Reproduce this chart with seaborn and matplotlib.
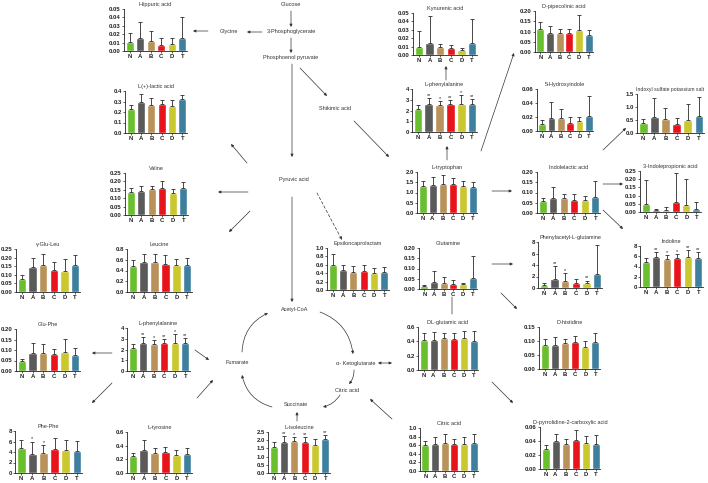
import numpy as np
import pandas as pd
import matplotlib
matplotlib.use("Agg")
import matplotlib.pyplot as plt
import seaborn as sns

sns.set_style("white")
plt.rcParams['font.family'] = ['Liberation Sans', 'DejaVu Sans']

groups = ["N", "A", "B", "C", "D", "T"]
colors = ["#6abf2e", "#5a5a5a", "#b8925a", "#e8141b", "#c9c82e", "#3f7f9e"]

# means and SD (upper error)
hippuric = [0.011, 0.015, 0.012, 0.007, 0.008, 0.016]
hippuric_sd = [0.010, 0.019, 0.012, 0.009, 0.007, 0.025]
lactic = [0.23, 0.30, 0.27, 0.275, 0.26, 0.32]
lactic_sd = [0.035, 0.07, 0.065, 0.035, 0.055, 0.04]
valine = [0.138, 0.143, 0.155, 0.160, 0.133, 0.160]
valine_sd = [0.022, 0.027, 0.020, 0.040, 0.022, 0.038]
glu_leu = [0.078, 0.143, 0.155, 0.130, 0.125, 0.158]
glu_leu_sd = [0.019, 0.057, 0.065, 0.047, 0.067, 0.057]
leucine = [0.48, 0.55, 0.56, 0.53, 0.51, 0.50]
leucine_sd = [0.12, 0.15, 0.14, 0.15, 0.10, 0.14]
glu_phe = [0.047, 0.086, 0.088, 0.079, 0.090, 0.076]
glu_phe_sd = [0.010, 0.046, 0.039, 0.025, 0.062, 0.032]
phenylalanine = [2.1, 2.6, 2.5, 2.6, 2.6, 2.6]
phenylalanine_sd = [0.4, 0.6, 0.35, 0.4, 0.8, 0.5]
phenylalanine_sig = ["", "**", "*", "**", "*", "**"]
phe_phe = [4.8, 3.7, 3.8, 4.5, 4.3, 4.1]
phe_phe_sd = [1.4, 2.3, 1.6, 2.1, 1.9, 2.0]
phe_phe_sig = ["", "*", "*", "", "", ""]
tyrosine = [0.25, 0.33, 0.30, 0.31, 0.27, 0.28]
tyrosine_sd = [0.05, 0.15, 0.06, 0.07, 0.06, 0.08]
isoleucine = [1.60, 1.90, 1.97, 1.90, 1.72, 2.05]
isoleucine_sd = [0.30, 0.35, 0.23, 0.30, 0.35, 0.25]
isoleucine_sig = ["", "**", "*", "**", "", "**"]
epsilon = [0.60, 0.47, 0.43, 0.45, 0.41, 0.43]
epsilon_sd = [0.25, 0.13, 0.13, 0.14, 0.11, 0.12]
kynurenic = [0.010, 0.014, 0.009, 0.008, 0.006, 0.014]
kynurenic_sd = [0.019, 0.033, 0.004, 0.004, 0.002, 0.029]
tryptophan = [1.33, 1.38, 1.43, 1.40, 1.33, 1.28]
tryptophan_sd = [0.22, 0.37, 0.42, 0.30, 0.25, 0.24]
glutamine = [0.013, 0.035, 0.028, 0.022, 0.022, 0.056]
glutamine_sd = [0.007, 0.055, 0.032, 0.020, 0.008, 0.107]
dl_glutamic = [0.42, 0.42, 0.45, 0.43, 0.44, 0.41]
dl_glutamic_sd = [0.10, 0.11, 0.07, 0.09, 0.11, 0.14]
citric = [0.60, 0.62, 0.66, 0.63, 0.63, 0.64]
citric_sd = [0.10, 0.17, 0.19, 0.12, 0.17, 0.21]
pipecolinic = [0.112, 0.095, 0.091, 0.093, 0.105, 0.085]
pipecolinic_sd = [0.033, 0.032, 0.022, 0.020, 0.075, 0.020]
hydroxyindole = [0.010, 0.018, 0.019, 0.012, 0.014, 0.021]
hydroxyindole_sd = [0.006, 0.024, 0.013, 0.008, 0.006, 0.029]
indoxyl = [0.37, 0.62, 0.55, 0.35, 0.51, 0.66]
indoxyl_sd = [0.17, 0.73, 0.40, 0.23, 0.59, 0.72]
indolelactic = [0.057, 0.073, 0.071, 0.063, 0.064, 0.080]
indolelactic_sd = [0.018, 0.052, 0.024, 0.032, 0.020, 0.077]
indolepropionic = [0.050, 0.010, 0.015, 0.060, 0.045, 0.020]
indolepropionic_sd = [0.145, 0.008, 0.017, 0.175, 0.158, 0.040]
phenylacetyl = [0.6, 1.6, 1.3, 0.9, 0.95, 2.5]
phenylacetyl_sd = [0.3, 2.2, 1.3, 0.7, 0.35, 4.9]
phenylacetyl_sig = ["", "**", "*", "", "**", ""]
indoline = [4.9, 5.8, 5.5, 5.7, 5.8, 5.7]
indoline_sd = [0.8, 1.1, 0.8, 0.7, 1.5, 1.2]
indoline_sig = ["", "**", "*", "*", "**", "**"]
histidine = [0.084, 0.085, 0.092, 0.097, 0.077, 0.095]
histidine_sd = [0.022, 0.028, 0.016, 0.021, 0.024, 0.032]
pyrrolidine = [0.028, 0.040, 0.036, 0.041, 0.037, 0.036]
pyrrolidine_sd = [0.006, 0.010, 0.007, 0.015, 0.010, 0.012]

W, H = 708, 483
fig = plt.figure(figsize=(W / 100, H / 100), dpi=100)

# background axes in pixel coords for the pathway nodes and arrows
bg = fig.add_axes([0, 0, 1, 1])
bg.set_xlim(0, W)
bg.set_ylim(H, 0)
bg.axis("off")

TXT = dict(fontsize=4, color="#333333", ha="center", va="center")
nodes = {
    "Glucose": (291, 5),
    "3-Phosphoglycerate": (291, 32),
    "Phosphoenol pyruvate": (291, 58),
    "Glycine": (229, 32),
    "Shikimic acid": (335, 108),
    "Pyruvic acid": (294, 179),
    "Acetyl-CoA": (295, 310),
    "Fumarate": (237, 362),
    "α- Ketoglutarate": (356, 363),
    "Citric acid": (347, 390),
    "Succinate": (296, 405),
}
for name, (x, y) in nodes.items():
    bg.text(x, y, name, **TXT)


def arrow(tail, head, style="-|>", rad=0.0, ls="-"):
    bg.annotate("", xy=head, xytext=tail,
                arrowprops=dict(arrowstyle=style, lw=0.5, color="#333333",
                                mutation_scale=4, shrinkA=0, shrinkB=0,
                                linestyle=ls,
                                connectionstyle=f"arc3,rad={rad}"))


arrow((291, 11), (291, 27))
arrow((291, 38), (291, 53))
arrow((262, 32), (247, 32))
arrow((208, 31), (193, 31))
arrow((300, 68), (327, 96))
arrow((292, 64), (292, 157))
arrow((354, 121), (389, 157))
arrow((446, 80), (446, 66))
arrow((447, 160), (447, 146))
arrow((481, 151), (514, 53))
arrow((603, 150), (626, 128))
arrow((492, 191), (512, 191))
arrow((603, 184), (623, 184))
arrow((603, 210), (623, 229))
arrow((492, 264), (513, 264))
arrow((501, 293), (517, 309))
arrow((452, 297), (452, 314), style="-")
arrow((492, 382), (513, 403))
arrow((378, 363), (392, 363), style="<|-|>")
arrow((392, 419), (370, 399))
arrow((292, 197), (292, 302))
arrow((317, 193), (342, 240), ls=(0, (4, 3)))
arrow((248, 192), (218, 192))
arrow((247, 163), (231, 144))
arrow((250, 211), (229, 232))
arrow((112, 353), (92, 353))
arrow((112, 383), (92, 403))
arrow((195, 350), (209, 360))
arrow((197, 398), (213, 380))
arrow((297, 421), (297, 412))
# TCA cycle
arrow((320, 312), (353, 354), rad=-0.3)
arrow((354, 370), (349, 384), rad=-0.2)
arrow((340, 395), (323, 407), rad=-0.2)
arrow((272, 407), (242, 375), rad=-0.3)
arrow((242, 352), (268, 313), rad=-0.3)


def panel(title, box, means, sds, ymax, step, dec, sig=None, tsize=4.0):
    x0, y0, x1, y1 = box
    ax = fig.add_axes([x0 / W, 1 - y1 / H, (x1 - x0) / W, (y1 - y0) / H])
    df = pd.DataFrame({"group": groups, "value": means})
    sns.barplot(data=df, x="group", y="value", hue="group", palette=colors,
                saturation=1, width=0.8, legend=False, ax=ax)
    ax.errorbar(np.arange(6), means, yerr=[np.zeros(6), sds], fmt="none",
                ecolor="#2a2a2a", elinewidth=0.6, capsize=1.4, capthick=0.6)
    if sig:
        for i, s in enumerate(sig):
            if s:
                ax.text(i, means[i] + sds[i], s, ha="center", va="bottom",
                        fontsize=4, color="#222222")
    ticks = np.arange(0, ymax + step / 2, step)
    ax.set_ylim(0, ymax)
    ax.set_yticks(ticks)
    ax.set_yticklabels([f"{t:.{dec}f}" for t in ticks])
    ax.set_xlim(-0.55, 5.45)
    ax.set_xlabel("")
    ax.set_ylabel("")
    ax.set_title(title, fontsize=tsize, color="#333333", pad=2.5)
    sns.despine(ax=ax)
    for sp in ["left", "bottom"]:
        ax.spines[sp].set_linewidth(0.6)
        ax.spines[sp].set_color("#222222")
    ax.tick_params(axis="both", length=1.5, width=0.5, pad=0.8,
                   labelsize=4.3, colors="#222222", left=True, bottom=True)
    for lab in ax.get_xticklabels() + ax.get_yticklabels():
        lab.set_fontweight("bold")
    return ax


panel("Hippuric acid", (124, 9, 187, 51), hippuric, hippuric_sd, 0.05, 0.01, 2)
panel("L(+)-lactic acid", (125, 91, 187, 133), lactic, lactic_sd, 0.4, 0.1, 1)
panel("Valine", (125, 173, 188, 215), valine, valine_sd, 0.25, 0.05, 2)
panel("γ-Glu-Leu", (16, 249, 80, 292), glu_leu, glu_leu_sd, 0.25, 0.05, 2)
panel("Leucine", (127, 249, 192, 292), leucine, leucine_sd, 0.8, 0.2, 1)
panel("Glu-Phe", (16, 329, 80, 371), glu_phe, glu_phe_sd, 0.20, 0.05, 2)
panel("L-phenylalanine", (127, 328, 190, 371), phenylalanine, phenylalanine_sd,
      4, 1, 0, phenylalanine_sig)
panel("Phe-Phe", (15, 431, 82, 473), phe_phe, phe_phe_sd, 8, 2, 0, phe_phe_sig)
panel("L-tyrosine", (127, 432, 192, 473), tyrosine, tyrosine_sd, 0.6, 0.2, 1)
panel("L-isoleucine", (268, 432, 330, 473), isoleucine, isoleucine_sd,
      2.5, 0.5, 1, isoleucine_sig)
panel("Epsiloncaprolactam", (327, 248, 389, 290), epsilon, epsilon_sd, 1.0, 0.2, 1)
panel("Kynurenic acid", (413, 13, 477, 55), kynurenic, kynurenic_sd, 0.05, 0.01, 2)
panel("L-phenylalanine", (412, 89, 477, 132), phenylalanine, phenylalanine_sd,
      4, 1, 0, phenylalanine_sig)
panel("L-tryptophan", (417, 172, 477, 213), tryptophan, tryptophan_sd, 2.0, 0.5, 1)
panel("Glutamine", (419, 248, 477, 289), glutamine, glutamine_sd, 0.20, 0.05, 2)
panel("DL-glutamic acid", (418, 327, 478, 370), dl_glutamic, dl_glutamic_sd, 0.6, 0.2, 1)
panel("Citric acid", (420, 428, 478, 471), citric, citric_sd, 1.0, 0.2, 1)
panel("D-pipecolinic acid", (535, 11, 593, 52), pipecolinic, pipecolinic_sd, 0.20, 0.05, 2)
panel("5-Hydroxyindole", (537, 89, 593, 131), hydroxyindole, hydroxyindole_sd,
      0.06, 0.02, 2)
panel("Indoxyl sulfate potassium salt", (637, 94, 704, 133), indoxyl, indoxyl_sd,
      1.5, 0.5, 1, tsize=3.7)
panel("Indolelactic acid", (537, 172, 600, 213), indolelactic, indolelactic_sd,
      0.20, 0.05, 2)
panel("3-Indolepropionic acid", (640, 171, 701, 212), indolepropionic,
      indolepropionic_sd, 0.25, 0.05, 2)
panel("Phenylacetyl-L-glutamine", (538, 242, 602, 288), phenylacetyl,
      phenylacetyl_sd, 8, 2, 0, phenylacetyl_sig)
panel("Indoline", (640, 246, 703, 287), indoline, indoline_sd, 8, 2, 0, indoline_sig)
panel("D-histidine", (539, 327, 600, 369), histidine, histidine_sd, 0.15, 0.05, 2)
panel("D-pyrrolidine-2-carboxylic acid", (540, 427, 600, 469), pyrrolidine,
      pyrrolidine_sd, 0.06, 0.02, 2)

fig.savefig("out.png", dpi=100)
